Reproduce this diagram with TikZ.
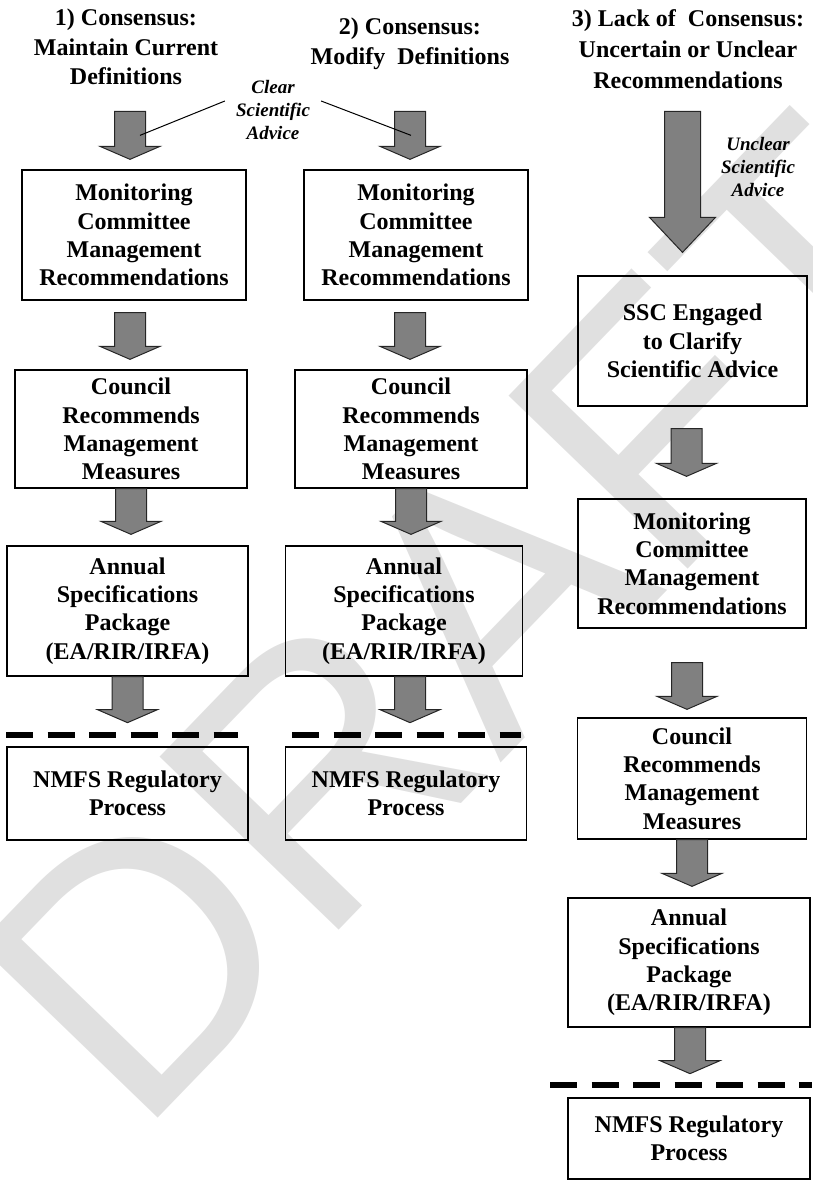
\documentclass[tikz,border=0pt]{standalone}
\usepackage{fontspec}
\setmainfont{Liberation Serif}
\newfontfamily\wmfont{Liberation Sans}
\usetikzlibrary{calc}
\definecolor{arrowgray}{HTML}{808080}
\definecolor{wmgray}{HTML}{E0E0E0}
\tikzset{
  box/.style={draw=black, line width=1.3pt, align=center, inner sep=0pt,
    font=\bfseries\fontsize{24}{28.3}\selectfont},
  hdr/.style={align=center, inner sep=0pt, font=\bfseries\fontsize{24}{29.5}\selectfont},
  lab/.style={align=center, inner sep=2pt, font=\bfseries\itshape\fontsize{19}{23}\selectfont},
  blk/.style={fill=arrowgray, draw=black!85, line width=1pt, line join=miter},
  sep/.style={line width=6.5pt, dash pattern=on 27pt off 14.5pt},
  ptr/.style={line width=1pt},
  wm/.style={text=wmgray, inner sep=0pt, font=\wmfont\fontsize{362}{362}\selectfont}
}
\newcommand\blockarr[5]{%
  \draw[blk] ($(#1)+(-#3,0)$) -- ($(#1)+(#3,0)$) -- ($(#2)+(#3,-#5)$) -- ($(#2)+(#4,-#5)$)
    -- (#2) -- ($(#2)+(-#4,-#5)$) -- ($(#2)+(-#3,-#5)$) -- cycle;}
\begin{document}
\begin{tikzpicture}[x=1pt,y=-1pt]
\useasboundingbox (0,0) rectangle (812,1184);
\clip (0,0) rectangle (812,1184);
% watermark
\node[wm, rotate=46, anchor=base west] (wmk) at (137,1140) {DRAFT};
% headers
\node[hdr] (h1) at (126,47) {1) Consensus:\\Maintain Current\\Definitions};
\node[hdr] (h2) at (410,44) {2) Consensus:\\Modify\ \ Definitions};
\node[hdr, font=\bfseries\fontsize{24}{31}\selectfont] (h3) at (688,49) {3) Lack of\ \ Consensus:\\Uncertain or Unclear\\Recommendations};
% column 1
\node[box, minimum width=224pt, minimum height=130pt] (M1) at (134,235) {Monitoring\\Committee\\Management\\Recommendations};
\node[box, minimum width=232pt, minimum height=118pt] (C1) at (131,429) {Council\\Recommends\\Management\\Measures};
\node[box, minimum width=241pt, minimum height=130pt] (A1) at (127.5,611) {Annual\\Specifications\\Package\\(EA/RIR/IRFA)};
\node[box, minimum width=241pt, minimum height=93pt] (N1) at (127.5,793.5) {NMFS Regulatory\\Process};
% column 2
\node[box, minimum width=224pt, minimum height=130pt] (M2) at (416,235) {Monitoring\\Committee\\Management\\Recommendations};
\node[box, minimum width=232pt, minimum height=118pt] (C2) at (411,429) {Council\\Recommends\\Management\\Measures};
\node[box, minimum width=237pt, minimum height=130pt] (A2) at (404,611) {Annual\\Specifications\\Package\\(EA/RIR/IRFA)};
\node[box, minimum width=241pt, minimum height=93pt] (N2) at (406,793.5) {NMFS Regulatory\\Process};
% column 3
\node[box, minimum width=229pt, minimum height=130pt] (S3) at (692.5,341) {SSC Engaged\\to Clarify\\Scientific Advice};
\node[box, minimum width=228pt, minimum height=129pt] (M3) at (692,563.5) {Monitoring\\Committee\\Management\\Recommendations};
\node[box, minimum width=229pt, minimum height=121pt] (C3) at (692,778.5) {Council\\Recommends\\Management\\Measures};
\node[box, minimum width=242pt, minimum height=129pt] (A3) at (689,962.5) {Annual\\Specifications\\Package\\(EA/RIR/IRFA)};
\node[box, minimum width=242pt, minimum height=81pt] (N3) at (689,1138.5) {NMFS Regulatory\\Process};
% arrow coordinates
\coordinate (a1t) at ($(M1.north)+(-4,-58)$);
\coordinate (a1h) at ($(M1.north)+(-4,-10)$);
\coordinate (a2t) at ($(M1.south)+(-4,12)$);
\coordinate (a2h) at ($(a2t |- C1.north)+(0,-10)$);
\coordinate (a3t) at ($(C1.south)+(0,0)$);
\coordinate (a3h) at ($(a3t |- A1.north)+(0,-11)$);
\coordinate (a4t) at ($(A1.south)+(0,0)$);
\coordinate (a4h) at ($(a4t)+(0,46)$);
\coordinate (b1t) at ($(M2.north)+(-6,-58)$);
\coordinate (b1h) at ($(M2.north)+(-6,-10)$);
\coordinate (b2t) at ($(M2.south)+(-6,12)$);
\coordinate (b2h) at ($(b2t |- C2.north)+(0,-10)$);
\coordinate (b3t) at ($(C2.south)+(0,0)$);
\coordinate (b3h) at ($(b3t |- A2.north)+(0,-11)$);
\coordinate (b4t) at ($(A2.south)+(6,0)$);
\coordinate (b4h) at ($(b4t)+(0,46)$);
\coordinate (c1t) at ($(S3.north)+(-10,-164)$);
\coordinate (c1h) at ($(S3.north)+(-10,-23)$);
\coordinate (c2t) at ($(S3.south)+(-6,22)$);
\coordinate (c2h) at ($(c2t |- M3.north)+(0,-22)$);
\coordinate (c3t) at ($(M3.south)+(-5,34)$);
\coordinate (c3h) at ($(c3t |- C3.north)+(0,-8)$);
\coordinate (c4t) at ($(C3.south)+(0,0)$);
\coordinate (c4h) at ($(c4t |- A3.north)+(0,-11)$);
\coordinate (c5t) at ($(A3.south)+(1,0)$);
\coordinate (c5h) at ($(c5t)+(0,46)$);
% block arrows
\blockarr{a1t}{a1h}{15.5}{30}{13}
\blockarr{a2t}{a2h}{15.5}{30}{13}
\blockarr{a3t}{a3h}{15.5}{30}{13}
\blockarr{a4t}{a4h}{15.5}{30}{13}
\blockarr{b1t}{b1h}{15.5}{30}{13}
\blockarr{b2t}{b2h}{15.5}{30}{13}
\blockarr{b3t}{b3h}{15.5}{30}{13}
\blockarr{b4t}{b4h}{15.5}{30}{13}
\blockarr{c1t}{c1h}{18}{33}{35}
\blockarr{c2t}{c2h}{15.5}{30}{13}
\blockarr{c3t}{c3h}{15.5}{30}{13}
\blockarr{c4t}{c4h}{15.5}{30}{13}
\blockarr{c5t}{c5h}{15.5}{30}{13}
% labels
\node[lab] (lab1) at (273,110) {Clear\\Scientific\\Advice};
\node[lab] (lab2) at (758,167) {Unclear\\Scientific\\Advice};
\draw[ptr] ($(lab1.west)+(-9,-9)$) -- ($(a1t)!0.5!(a1h)+(10,0)$);
\draw[ptr] ($(lab1.east)+(9,-9)$) -- ($(b1t)!0.5!(b1h)+(1,0)$);
% separators
\coordinate (s1a) at (6,735);   \coordinate (s1b) at (238,735);
\coordinate (s2a) at (292,735); \coordinate (s2b) at (521,735);
\coordinate (s3a) at (550,1085); \coordinate (s3b) at (812,1085);
\draw[sep] (s1a) -- (s1b);
\draw[sep] (s2a) -- (s2b);
\draw[sep] (s3a) -- (s3b);
\end{tikzpicture}
\end{document}
